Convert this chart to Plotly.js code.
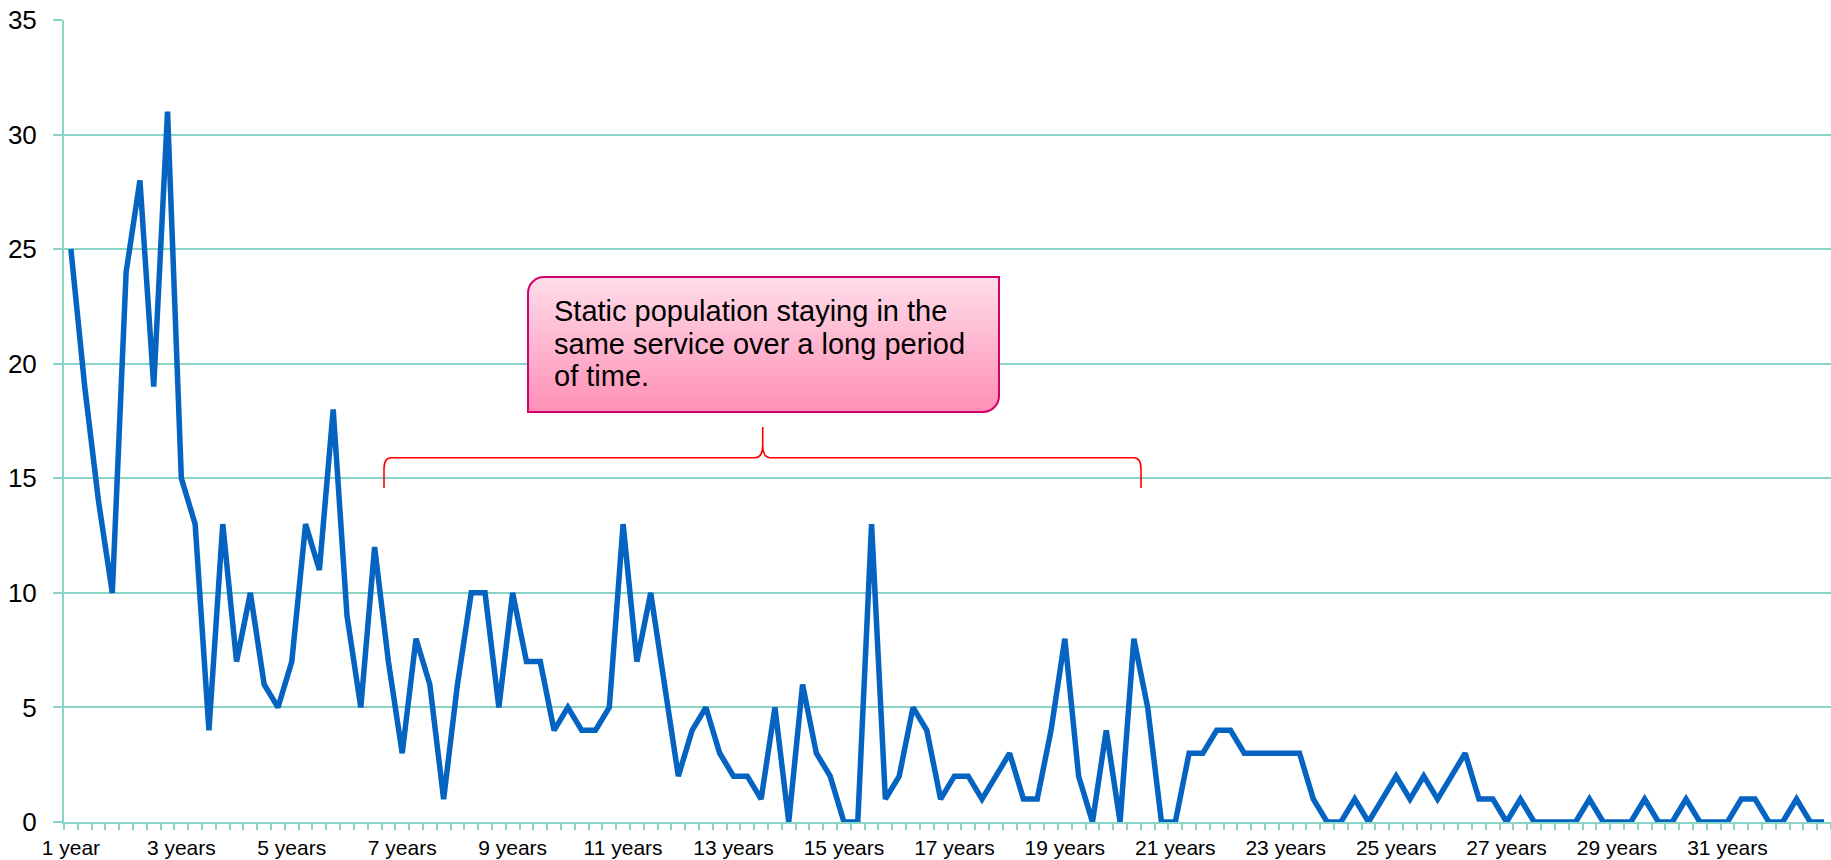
<!DOCTYPE html>
<html>
<head>
<meta charset="utf-8">
<script src="https://cdn.plot.ly/plotly-3.0.1.min.js"></script>
<style>
  html, body { margin: 0; padding: 0; background: #ffffff; }
  #chart { width: 1831px; height: 860px; }
</style>
</head>
<body>
<div id="chart"></div>
<script>
// ---- data (quarterly counts, from 1 year upward) ----
const counts = [
  25, 19, 14, 10, 24, 28, 19, 31, 15, 13,
  4, 13, 7, 10, 6, 5, 7, 13, 11, 18,
  9, 5, 12, 7, 3, 8, 6, 1, 6, 10,
  10, 5, 10, 7, 7, 4, 5, 4, 4, 5,
  13, 7, 10, 6, 2, 4, 5, 3, 2, 2,
  1, 5, 0, 6, 3, 2, 0, 0, 13, 1,
  2, 5, 4, 1, 2, 2, 1, 2, 3, 1,
  1, 4, 8, 2, 0, 4, 0, 8, 5, 0,
  0, 3, 3, 4, 4, 3, 3, 3, 3, 3,
  1, 0, 0, 1, 0, 1, 2, 1, 2, 1,
  2, 3, 1, 1, 0, 1, 0, 0, 0, 0,
  1, 0, 0, 0, 1, 0, 0, 1, 0, 0,
  0, 1, 1, 0, 0, 1, 0, 0
];
const tickYears = [1, 3, 5, 7, 9, 11, 13, 15, 17, 19, 21, 23, 25, 27, 29, 31];
const tickLabels = ["1 year", "3 years", "5 years", "7 years", "9 years", "11 years",
  "13 years", "15 years", "17 years", "19 years", "21 years", "23 years",
  "25 years", "27 years", "29 years", "31 years"];
const calloutLines = ["Static population staying in the", "same service over a long period", "of time."];

// x position of each quarterly point, in years
const years = counts.map((_, i) => 1 + i / 4);

// ---- geometry helpers (pixel -> paper / data) ----
const W = 1831, H = 860;
const M = { l: 64, r: 0, t: 20, b: 38 };
const PW = W - M.l - M.r, PH = H - M.t - M.b;
const XR = [0.875, 32.875], YR = [0, 35];
const pxX = X => (X - M.l) / PW;
const pxY = Y => (H - M.b - Y) / PH;
const dX = X => XR[0] + pxX(X) * (XR[1] - XR[0]);
const dY = Y => YR[0] + pxY(Y) * (YR[1] - YR[0]);
const P = (X, Y) => dX(X).toFixed(4) + ',' + dY(Y).toFixed(4);

const grid = '#8ad3c7';

// curly brace path
const hy = 457.7;
const brace = 'M ' + P(384, 488) + ' L ' + P(384, 469) + ' Q ' + P(384, hy) + ' ' + P(391, hy) +
  ' L ' + P(755, hy) + ' Q ' + P(762.7, hy) + ' ' + P(762.7, 445) + ' L ' + P(762.7, 427) +
  ' L ' + P(762.7, 445) + ' Q ' + P(762.7, hy) + ' ' + P(770, hy) +
  ' L ' + P(1134, hy) + ' Q ' + P(1141, hy) + ' ' + P(1141, 469) + ' L ' + P(1141, 488);

// callout box background (gradient, diagonal rounded corners)
const bx0 = 527, by0 = 276, bw = 473, bh = 137, r = 16;
const boxSvg = "<svg xmlns='http://www.w3.org/2000/svg' width='" + bw + "' height='" + bh + "' viewBox='0 0 " + bw + " " + bh + "'>" +
  "<defs><linearGradient id='g' x1='0' y1='0' x2='0' y2='1'>" +
  "<stop offset='0' stop-color='#fedde9'/><stop offset='1' stop-color='#ff8fb6'/></linearGradient></defs>" +
  "<path d='M " + (1 + r) + ",1 L " + (bw - 1) + ",1 L " + (bw - 1) + "," + (bh - 1 - r) +
  " A " + r + " " + r + " 0 0 1 " + (bw - 1 - r) + "," + (bh - 1) + " L 1," + (bh - 1) +
  " L 1," + (1 + r) + " A " + r + " " + r + " 0 0 1 " + (1 + r) + ",1 Z' fill='url(#g)' stroke='#d3006f' stroke-width='2'/></svg>";

const trace = {
  x: years,
  y: counts,
  type: 'scatter',
  mode: 'lines',
  line: { color: '#0563c1', width: 5.5, shape: 'linear' },
  hoverinfo: 'x+y',
  showlegend: false
};

const family = 'Liberation Sans, Arial, sans-serif';
const xfont = { family: family, size: 21, color: '#000000' };
const yfont = { family: family, size: 26, color: '#000000' };
const lineYs = [311, 343.5, 376];

const layout = {
  width: W, height: H,
  margin: M,
  paper_bgcolor: '#ffffff',
  plot_bgcolor: '#ffffff',
  font: xfont,
  showlegend: false,
  xaxis: {
    type: 'linear',
    range: XR,
    tickmode: 'array',
    tickvals: tickYears,
    ticktext: tickLabels,
    ticks: '',
    showgrid: false,
    zeroline: false,
    showline: true,
    linecolor: grid,
    linewidth: 2,
    tickfont: xfont,
    ticklabelstandoff: 6,
    minor: {
      tickmode: 'linear',
      tick0: 0.875,
      dtick: 0.25,
      ticks: 'outside',
      ticklen: 6,
      tickwidth: 2,
      tickcolor: grid,
      showgrid: false
    }
  },
  yaxis: {
    range: YR,
    tickmode: 'linear',
    tick0: 0,
    dtick: 5,
    ticks: 'outside',
    ticklen: 9,
    tickwidth: 2,
    tickcolor: grid,
    showgrid: true,
    gridcolor: grid,
    gridwidth: 2,
    zeroline: false,
    showline: true,
    linecolor: grid,
    linewidth: 2,
    tickfont: yfont,
    ticklabelstandoff: 11
  },
  shapes: [
    { type: 'path', xref: 'x', yref: 'y', path: brace, line: { color: '#ff0000', width: 1.6 } }
  ],
  images: [
    {
      source: 'data:image/svg+xml;charset=utf-8,' + encodeURIComponent(boxSvg),
      xref: 'paper', yref: 'paper',
      x: pxX(bx0), y: pxY(by0),
      sizex: bw / PW, sizey: bh / PH,
      xanchor: 'left', yanchor: 'top',
      sizing: 'stretch', layer: 'above'
    }
  ],
  annotations: calloutLines.map((t, k) => ({
    xref: 'paper', yref: 'paper',
    x: pxX(552), y: pxY(lineYs[k]),
    xanchor: 'left', yanchor: 'middle', align: 'left',
    showarrow: false,
    text: t,
    font: { family: family, size: 29, color: '#000000' }
  }))
};

Plotly.newPlot('chart', [trace], layout, { displayModeBar: false, staticPlot: true });
</script>
</body>
</html>
